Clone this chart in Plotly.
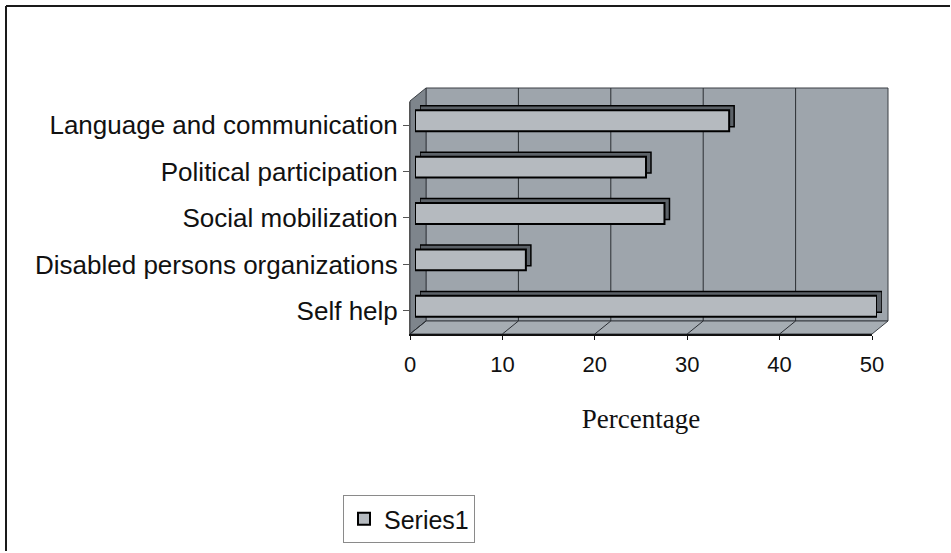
import plotly.graph_objects as go

# ---- data ----
categories = ["Self help", "Disabled persons organizations", "Social mobilization",
              "Political participation", "Language and communication"]
values = [50, 12, 27, 25, 34]
x_ticks = [0, 10, 20, 30, 40, 50]
series_name = "Series1"
x_title = "Percentage"

# ---- styles ----
FONT = "Arial, Liberation Sans, sans-serif"
SERIF = "Times New Roman, Liberation Serif, serif"
WALL = "#9ea5ac"
LEFTWALL = "#7e858c"
FLOOR = "#a6adb3"
BAR = "#b5babf"
BAR_BACK = "#5c6268"

W, H = 951, 553
L, R, T, B = 410, 69, 93, 218
PW = W - L - R
PH = H - T - B
DX, DY = 16, 13   # wall depth (pixels)
FW, FH = 462, 233  # front plane size (pixels)

fig = go.Figure()
# back face of bars (depth)
fig.add_trace(go.Bar(
    x=values, y=categories, orientation="h", xaxis="x2", yaxis="y2",
    marker=dict(color=BAR_BACK, line=dict(color="black", width=1.5)),
    width=0.45, showlegend=False, hoverinfo="skip"))
# front face of bars
fig.add_trace(go.Bar(
    x=values, y=categories, orientation="h", xaxis="x3", yaxis="y3",
    name=series_name,
    marker=dict(color=BAR, line=dict(color="black", width=2)),
    width=0.45))

BOT = T + PH
shapes = []
# outer chart frame (left and top edges; the rest lies outside the picture)
shapes.append(dict(type="line", xref="paper", yref="paper", xsizemode="pixel", ysizemode="pixel",
                   xanchor=0, yanchor=0, x0=6 - L, x1=6 - L, y0=-(H - 1 - BOT), y1=BOT - 7,
                   line=dict(color="#1a1a1a", width=2), layer="below"))
shapes.append(dict(type="line", xref="paper", yref="paper", xsizemode="pixel", ysizemode="pixel",
                   xanchor=0, yanchor=0, x0=6 - L, x1=W - 1 - L, y0=BOT - 7, y1=BOT - 7,
                   line=dict(color="#1a1a1a", width=2), layer="below"))
# back wall
shapes.append(dict(type="rect", xref="paper", yref="paper", xsizemode="pixel", ysizemode="pixel",
                   xanchor=0, yanchor=0, x0=DX, x1=FW + DX, y0=DY, y1=FH + DY,
                   line=dict(color="#3a3f44", width=1), fillcolor=WALL, layer="below"))
# left wall
shapes.append(dict(type="path", xref="paper", yref="paper", xsizemode="pixel", ysizemode="pixel",
                   xanchor=0, yanchor=0,
                   path=f"M0,0 L{DX},{DY} L{DX},{FH + DY} L0,{FH} Z",
                   line=dict(color="#3a3f44", width=1), fillcolor=LEFTWALL, layer="below"))
# floor
shapes.append(dict(type="path", xref="paper", yref="paper", xsizemode="pixel", ysizemode="pixel",
                   xanchor=0, yanchor=0,
                   path=f"M0,0 L{FW},0 L{FW + DX},{DY} L{DX},{DY} Z",
                   line=dict(color="#3a3f44", width=1), fillcolor=FLOOR, layer="below"))
# gridlines on back wall and floor ticks
for v in x_ticks:
    if 0 < v < x_ticks[-1]:
        shapes.append(dict(type="line", xref="x", yref="paper", xsizemode="pixel", ysizemode="pixel",
                           xanchor=v, yanchor=0, x0=DX, x1=DX, y0=DY, y1=FH + DY,
                           line=dict(color="#2a2e33", width=1), layer="below"))
    shapes.append(dict(type="line", xref="x", yref="paper", xsizemode="pixel", ysizemode="pixel",
                       xanchor=v, yanchor=0, x0=0, x1=DX, y0=0, y1=DY,
                       line=dict(color="#2a2e33", width=1), layer="below"))

fig.update_layout(
    width=W, height=H,
    margin=dict(l=L, r=R, t=T, b=B, pad=0),
    paper_bgcolor="white", plot_bgcolor="rgba(0,0,0,0)",
    shapes=shapes,
    font=dict(family=FONT, color="#111111"),
    xaxis=dict(domain=[0, FW / PW], range=[0, 50], tickvals=x_ticks, anchor="y",
               showgrid=False, zeroline=False, showline=True, linecolor="#111111", linewidth=1.5,
               ticks="outside", ticklen=4, tickcolor="#111111", tickfont=dict(size=22, family=FONT),
               ticklabelstandoff=6,
               title=dict(text=x_title, font=dict(size=27, family=SERIF), standoff=33)),
    yaxis=dict(domain=[0, FH / PH], type="category", categoryarray=categories, range=[-0.5, 4.5],
               anchor="x", showgrid=False, zeroline=False, showline=True, linecolor="#555",
               ticks="outside", ticklen=6, tickcolor="#555", tickfont=dict(size=26, family=FONT),
               ticklabelstandoff=0),
    xaxis2=dict(domain=[10 / PW, 1], range=[0, 50], anchor="y2", visible=False),
    yaxis2=dict(domain=[9 / PH, 1], type="category", categoryarray=categories,
                range=[-0.5, 4.5], anchor="x2", visible=False),
    xaxis3=dict(domain=[5 / PW, (FW + 5) / PW], range=[0, 50], anchor="y3", visible=False),
    yaxis3=dict(domain=[4.5 / PH, (FH + 4.5) / PH], type="category", categoryarray=categories,
                range=[-0.5, 4.5], anchor="x3", visible=False),
    legend=dict(x=(343 - L) / PW, y=-(543 - BOT) / PH, xanchor="left", yanchor="bottom",
                bgcolor="white", bordercolor="#8a8a8a", borderwidth=1, entrywidth=90,
                font=dict(size=25, family=FONT)),
    showlegend=True,
)

fig.write_html("out.html")
